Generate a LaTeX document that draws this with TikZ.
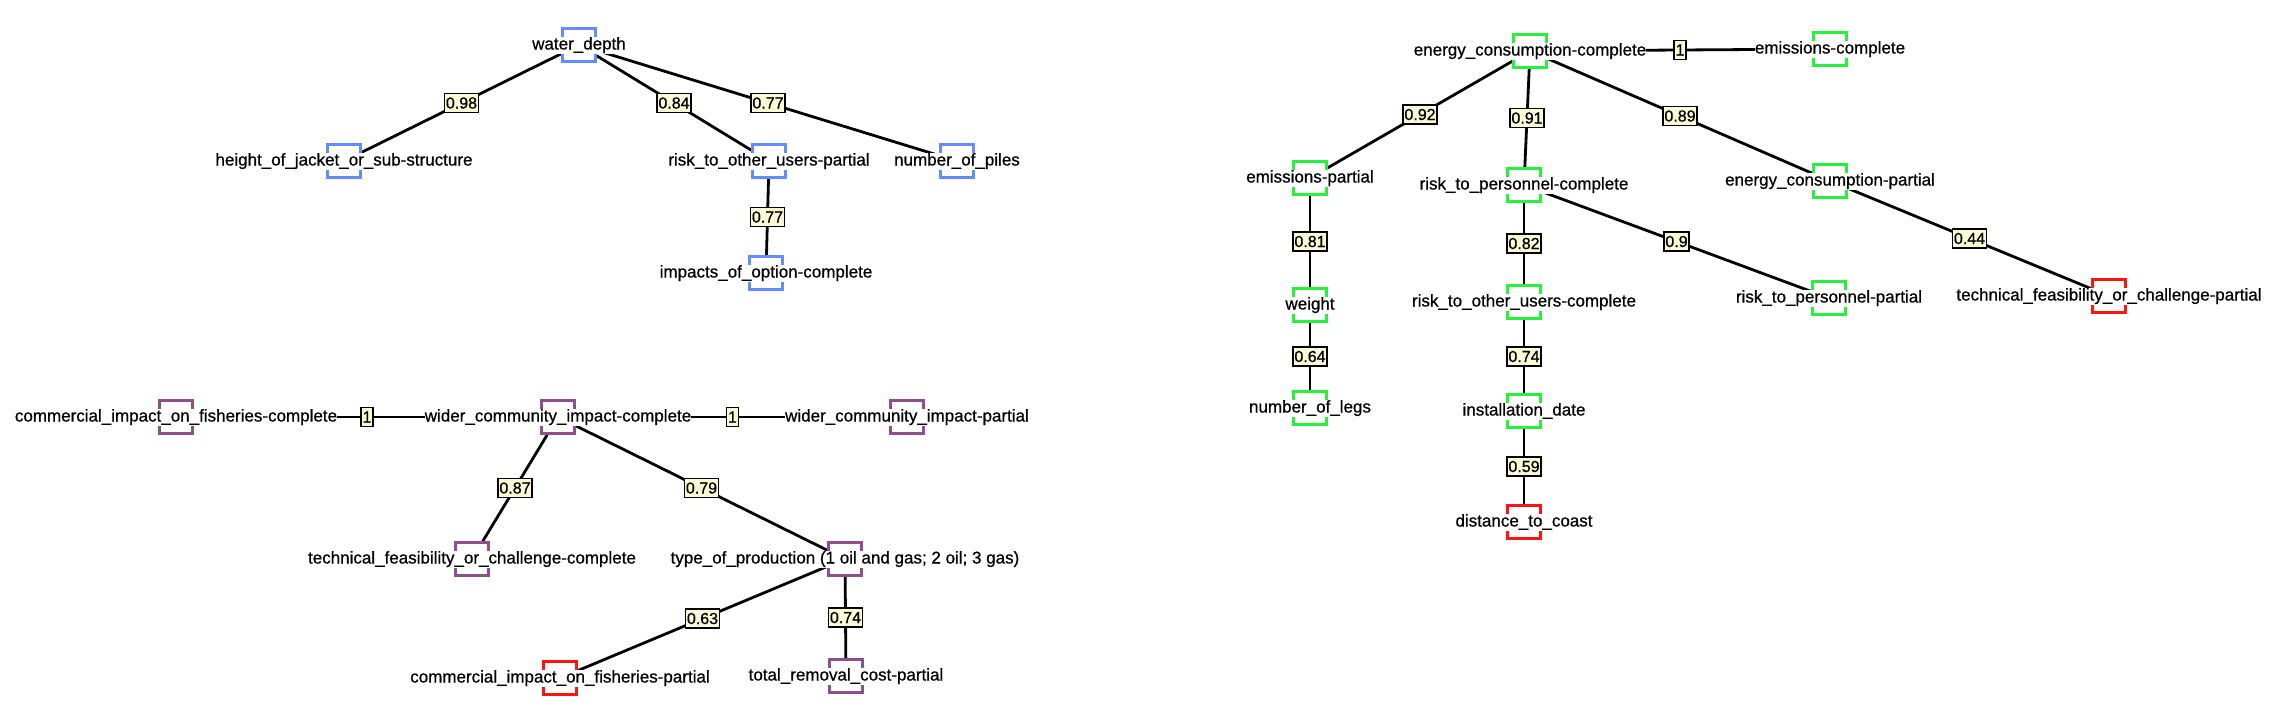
\documentclass[tikz,border=0pt]{standalone}
\usepackage{fontspec}
\setmainfont{Liberation Sans}
\newfontfamily\graphfont{Liberation Sans}[FakeBold=0.7]
\definecolor{varblue}{RGB}{100, 140, 255}
\definecolor{varpurple}{RGB}{140, 80, 140}
\definecolor{vargreen}{RGB}{40, 240, 60}
\definecolor{varred}{RGB}{255, 20, 20}
\definecolor{wfill}{RGB}{250, 250, 212}
\usetikzlibrary{backgrounds}
\tikzset{
	var/.style={rectangle, draw=#1, line width=2.5pt, minimum size=33pt, inner sep=0pt},
	vartext/.style={fill=white, inner xsep=0pt, inner ysep=0.5pt, text height=12.5pt, text depth=3.5pt, font=\graphfont\fontsize{17}{20}\selectfont},
	link/.style={line width=2.8pt, draw=black},
	weight/.style={rectangle, draw=black, fill=wfill, line width=1.8pt, inner xsep=1.5pt, inner ysep=1pt, minimum height=19pt, font=\graphfont\fontsize{16}{18}\selectfont},
}

\begin{document}
\begin{tikzpicture}[x=1pt, y=-1pt]
		\useasboundingbox (0,0) rectangle (2296,723);
		% water depth group
		\node[var=varblue, label={[vartext]center:water\_depth}] (wd) at (579,45) {};
		\node[var=varblue, label={[vartext]center:height\_of\_jacket\_or\_sub-structure}] (hj) at (344,161) {};
		\node[var=varblue, label={[vartext]center:risk\_to\_other\_users-partial}] (rou) at (769,161) {};
		\node[var=varblue, label={[vartext]center:number\_of\_piles}] (np) at (957,161) {};
		\node[var=varblue, label={[vartext]center:impacts\_of\_option-complete}] (ioc) at (766,273) {};
		% community group
		\node[var=varpurple, label={[vartext]center:commercial\_impact\_on\_fisheries-complete}] (cifc) at (176,417) {};
		\node[var=varpurple, label={[vartext]center:wider\_community\_impact-complete}] (wcc) at (558,417) {};
		\node[var=varpurple, label={[vartext]center:wider\_community\_impact-partial}] (wcp) at (907,417) {};
		\node[var=varpurple, label={[vartext]center:technical\_feasibility\_or\_challenge-complete}] (tfc) at (472,559) {};
		\node[var=varpurple, label={[vartext]center:type\_of\_production (1 oil and gas; 2 oil; 3 gas)}] (top) at (845,559) {};
		\node[var=varred, label={[vartext]center:commercial\_impact\_on\_fisheries-partial}] (cifp) at (560,678) {};
		\node[var=varpurple, label={[vartext]center:total\_removal\_cost-partial}] (trc) at (846,676) {};
		% energy group
		\node[var=vargreen, label={[vartext]center:energy\_consumption-complete}] (ecc) at (1530,51) {};
		\node[var=vargreen, label={[vartext]center:emissions-complete}] (emc) at (1830,49) {};
		\node[var=vargreen, label={[vartext]center:emissions-partial}] (emp) at (1310,178) {};
		\node[var=vargreen, label={[vartext]center:risk\_to\_personnel-complete}] (rpc) at (1524,185) {};
		\node[var=vargreen, label={[vartext]center:energy\_consumption-partial}] (ecp) at (1830,181) {};
		\node[var=vargreen, label={[vartext]center:weight}] (wt) at (1310,305) {};
		\node[var=vargreen, label={[vartext]center:risk\_to\_other\_users-complete}] (rouc) at (1524,302) {};
		\node[var=vargreen, label={[vartext]center:risk\_to\_personnel-partial}] (rpp) at (1829,298) {};
		\node[var=varred, label={[vartext]center:technical\_feasibility\_or\_challenge-partial}] (tfp) at (2109,296) {};
		\node[var=vargreen, label={[vartext]center:number\_of\_legs}] (nl) at (1310,408) {};
		\node[var=vargreen, label={[vartext]center:installation\_date}] (id) at (1524,411) {};
		\node[var=varred, label={[vartext]center:distance\_to\_coast}] (dc) at (1524,522) {};
		\begin{scope}[on background layer]
			\foreach \a/\b/\w in {wd/hj/0.98, wd/rou/0.84, wd/np/0.77, rou/ioc/0.77,
				cifc/wcc/1, wcc/wcp/1, wcc/tfc/0.87, wcc/top/0.79, top/cifp/0.63, top/trc/0.74,
				ecc/emc/1, ecc/emp/0.92, ecc/rpc/0.91, ecc/ecp/0.89, emp/wt/0.81, wt/nl/0.64,
				rpc/rouc/0.82, rpc/rpp/0.9, rouc/id/0.74, id/dc/0.59, ecp/tfp/0.44}
				{\draw[link] (\a) -- node[weight] {\w} (\b);}
		\end{scope}
	\end{tikzpicture}
\end{document}
